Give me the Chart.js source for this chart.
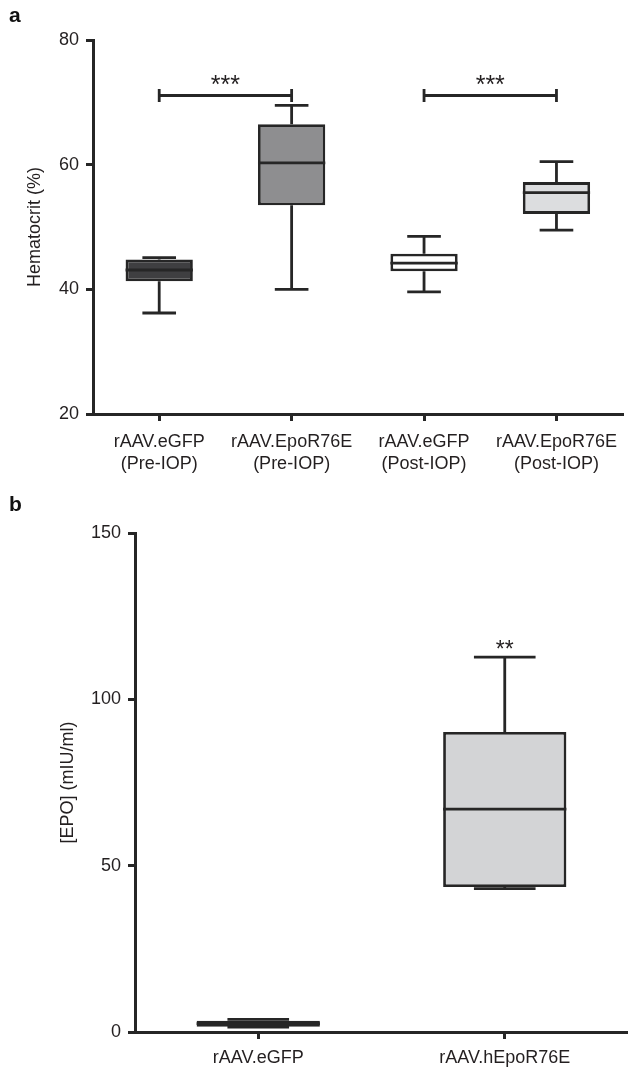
<!DOCTYPE html>
<html>
<head>
<meta charset="utf-8">
<script src="https://cdn.jsdelivr.net/npm/chart.js@4.4.1/dist/chart.umd.min.js"></script>
<style>
  html, body { margin: 0; padding: 0; background: #fff; }
  #wrap { position: relative; width: 628px; height: 1069px; overflow: hidden; font-family: "Liberation Sans", Arial, sans-serif; }
  canvas { position: absolute; left: 0; }
  #cA { top: 0; }
  #cB { top: 500px; }
  .plabel { position: absolute; font-weight: bold; font-size: 21px; color: #111; line-height: 1; }
</style>
</head>
<body>
<div id="wrap">
  <canvas id="cA" width="628" height="500"></canvas>
  <canvas id="cB" width="628" height="569"></canvas>
  <div class="plabel" style="left:9px; top:4px;">a</div>
  <div class="plabel" style="left:9px; top:493px;">b</div>
</div>
<script>
// ---------- Panel a data ----------
const catsA = [["rAAV.eGFP", "(Pre-IOP)"], ["rAAV.EpoR76E", "(Pre-IOP)"], ["rAAV.eGFP", "(Post-IOP)"], ["rAAV.EpoR76E", "(Post-IOP)"]];
const minA    = [36.2, 40.0, 39.6, 49.5];
const q1A     = [41.3, 53.5, 42.9, 52.1];
const medianA = [43.1, 60.3, 44.2, 55.5];
const q3A     = [44.8, 66.5, 45.7, 57.2];
const maxA    = [45.1, 69.5, 48.5, 60.5];
const colorsA = ["#3f3f41", "#8e8e90", "#ffffff", "#dcdddf"];
const ticksA  = [20, 40, 60, 80];
const sigA = [{ from: 0, to: 1, level: 71.1, label: "***", labelAt: 71.5 },
              { from: 2, to: 3, level: 71.1, label: "***", labelAt: 71.5 }];

// ---------- Panel b data ----------
const catsB = ["rAAV.eGFP", "rAAV.hEpoR76E"];
const minB    = [1.5, 43.1];
const q1B     = [1.6, 43.6];
const medianB = [2.5, 67.0];
const q3B     = [3.4, 90.2];
const maxB    = [3.8, 112.7];
const colorsB = ["#2b2b2b", "#d3d4d6"];
const ticksB  = [0, 50, 100, 150];
const sigB = [{ at: 1, label: "**", labelAt: 112.6 }];

const INK = "#262626";
const TXT = "#231f20";
const FONT = "'Liberation Sans', Arial, sans-serif";

const boxPlugin = {
  id: "boxparts",
  afterDatasetsDraw(chart, args, opts) {
    const ctx = chart.ctx;
    const y = chart.scales.y;
    const meta = chart.getDatasetMeta(0);
    ctx.save();
    ctx.strokeStyle = INK;
    ctx.lineWidth = 2.8;
    ctx.lineCap = "butt";
    meta.data.forEach((bar, i) => {
      const x = bar.x, w = bar.width;
      const pMin = y.getPixelForValue(opts.mins[i]);
      const pMax = y.getPixelForValue(opts.maxs[i]);
      const pQ1 = y.getPixelForValue(opts.q1[i]);
      const pQ3 = y.getPixelForValue(opts.q3[i]);
      const pMed = y.getPixelForValue(opts.med[i]);
      ctx.beginPath();
      ctx.moveTo(x, pQ3); ctx.lineTo(x, pMax);
      ctx.moveTo(x - w / 4, pMax); ctx.lineTo(x + w / 4, pMax);
      ctx.moveTo(x, pQ1); ctx.lineTo(x, pMin);
      ctx.moveTo(x - w / 4, pMin); ctx.lineTo(x + w / 4, pMin);
      ctx.moveTo(x - w / 2, pMed); ctx.lineTo(x + w / 2, pMed);
      ctx.stroke();
    });
    ctx.fillStyle = TXT;
    ctx.font = opts.starSize + "px " + FONT;
    ctx.textAlign = "center";
    ctx.textBaseline = "alphabetic";
    (opts.sig || []).forEach(s => {
      if (s.from !== undefined) {
        const x1 = meta.data[s.from].x, x2 = meta.data[s.to].x;
        const py = y.getPixelForValue(s.level);
        ctx.beginPath();
        ctx.moveTo(x1, py); ctx.lineTo(x2, py);
        ctx.moveTo(x1, py - 6.5); ctx.lineTo(x1, py + 6.5);
        ctx.moveTo(x2, py - 6.5); ctx.lineTo(x2, py + 6.5);
        ctx.stroke();
        ctx.fillText(s.label, (x1 + x2) / 2, y.getPixelForValue(s.labelAt));
      } else {
        ctx.fillText(s.label, meta.data[s.at].x, y.getPixelForValue(s.labelAt));
      }
    });
    ctx.restore();
  }
};

function makeChart(id, cats, q1, q3, colors, mins, maxs, med, ticks, sig, cfg) {
  return new Chart(document.getElementById(id), {
    type: "bar",
    data: {
      labels: cats,
      datasets: [{
        data: q1.map((v, i) => [v, q3[i]]),
        backgroundColor: colors,
        borderColor: INK,
        borderWidth: 2.8,
        borderSkipped: false,
        barPercentage: cfg.barPct,
        categoryPercentage: 1.0
      }]
    },
    options: {
      responsive: false,
      animation: false,
      devicePixelRatio: 1,
      layout: { padding: { top: cfg.padTop, right: 0, left: 0, bottom: 0 } },
      plugins: {
        legend: { display: false },
        tooltip: { enabled: false },
        boxparts: { mins, maxs, q1, q3, med, sig, starSize: cfg.starSize }
      },
      scales: {
        x: {
          type: "category",
          offset: true,
          grid: { display: true, drawOnChartArea: false, drawTicks: true, tickLength: 7, lineWidth: 3, color: INK, offset: false },
          border: { display: true, color: INK, width: 3 },
          ticks: { color: TXT, font: { family: FONT, size: 18, lineHeight: 1.17 }, padding: cfg.xPad, maxRotation: 0, autoSkip: false },
          afterFit(s) { s.height = cfg.xH; }
        },
        y: {
          min: ticks[0], max: ticks[ticks.length - 1],
          afterBuildTicks(s) { s.ticks = ticks.map(v => ({ value: v })); },
          grid: { display: true, drawOnChartArea: false, drawTicks: true, tickLength: 7, lineWidth: 3, color: INK },
          border: { display: true, color: INK, width: 3 },
          ticks: { color: TXT, font: { family: FONT, size: 18 }, padding: 7 },
          title: { display: true, text: cfg.yTitle, color: TXT, font: { family: FONT, size: 18 }, padding: { top: cfg.titlePad, bottom: 0 } },
          afterFit(s) { s.width = cfg.yW; }
        }
      }
    },
    plugins: [boxPlugin]
  });
}

makeChart("cA", catsA, q1A, q3A, colorsA, minA, maxA, medianA, ticksA, sigA,
  { barPct: 0.508, padTop: 40, xPad: 11, xH: 86, yW: 93, yTitle: "Hematocrit (%)", titlePad: 24, starSize: 25 });
makeChart("cB", catsB, q1B, q3B, colorsB, minB, maxB, medianB, ticksB, sigB,
  { barPct: 0.5, padTop: 33, xPad: 9, xH: 37, yW: 135, yTitle: "[EPO] (mIU/ml)", titlePad: 57, starSize: 23 });
</script>
</body>
</html>
